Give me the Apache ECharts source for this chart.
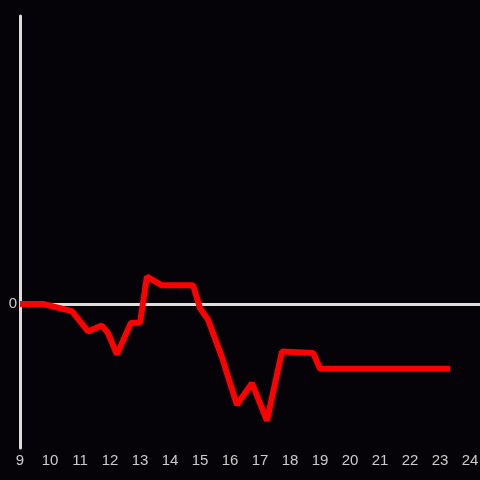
<!DOCTYPE html>
<html>
<head>
<meta charset="utf-8">
<script src="https://cdn.jsdelivr.net/npm/echarts@6/dist/echarts.min.js"></script>
<style>
html, body { margin: 0; padding: 0; background: #050307; }
#main { width: 480px; height: 480px; }
</style>
</head>
<body>
<div id="main"></div>
<script>
// hour of day and value
var hours = [9, 9.77, 10.73, 11.27, 11.73, 11.93, 12.23, 12.7, 13.0, 13.23, 13.73, 14.77,
	15.0, 15.27, 15.73, 16.23, 16.73, 17.0, 17.23, 17.73, 18.77, 19.0, 23.33];
var values = [0, 0, -5, -19, -15, -20, -35, -13, -13, 19, 13, 13,
	-3, -11, -37, -70, -55, -69, -81, -33, -34, -45, -45];
var xTicks = [9, 24];

var myChart = echarts.init(document.getElementById('main'));

var points = [];
for (var i = 0; i < hours.length; i++) {
	points.push([hours[i], values[i]]);
}

var option = {
	backgroundColor: '#050307',
	animation: false,
	grid: {left: 20, right: 0, top: 16, bottom: 32, outerBoundsMode: 'none'},
	xAxis: {
		type: 'value',
		min: xTicks[0],
		max: 24.33,
		interval: 1,
		axisLine: {show: false},
		axisTick: {show: false},
		splitLine: {show: false},
		axisLabel: {
			color: '#cccccc',
			fontSize: 15,
			margin: 5,
			formatter: function (v) { return v <= xTicks[1] ? String(v) : ''; }
		}
	},
	yAxis: {
		type: 'value',
		min: -100,
		max: 200,
		interval: 100,
		axisLine: {show: true, lineStyle: {color: '#dddddd', width: 3}},
		axisTick: {show: false},
		splitLine: {show: false},
		axisLabel: {
			color: '#cccccc',
			fontSize: 15,
			margin: 3,
			formatter: function (v) { return v === 0 ? '0' : ''; }
		}
	},
	series: [
		{
			type: 'line',
			data: points,
			symbol: 'none',
			lineStyle: {color: '#ff0000', width: 6},
			z: 3,
			markLine: {
				silent: true,
				symbol: 'none',
				label: {show: false},
				lineStyle: {color: '#dddddd', width: 3, type: 'solid'},
				data: [{yAxis: 0}],
				z: 1
			}
		}
	]
};
myChart.setOption(option);
</script>
</body>
</html>
